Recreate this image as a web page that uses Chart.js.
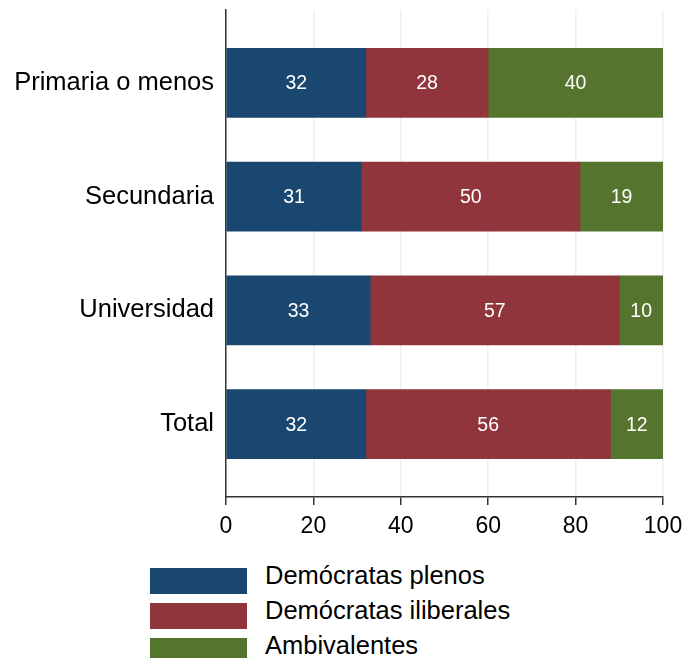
<!DOCTYPE html>
<html>
<head>
<meta charset="utf-8">
<script src="https://cdn.jsdelivr.net/npm/chart.js@4"></script>
<style>
  body { margin: 0; background: #fff; font-family: "Liberation Sans", Arial, sans-serif; }
  #wrap { position: relative; width: 686px; height: 658px; overflow: hidden; }
  #chart { position: absolute; left: 0; top: 0; }
  #legend { position: absolute; left: 150px; top: 563px; }
  .item { display: flex; align-items: center; height: 35px; }
  .box { width: 97px; height: 26px; margin-right: 18px; box-sizing: border-box; }
  .item span { font-size: 25.5px; color: #000; position: relative; top: -5px; white-space: nowrap; }
</style>
</head>
<body>
<div id="wrap">
  <canvas id="chart" width="686" height="545"></canvas>
  <div id="legend"></div>
</div>
<script>
const categories = ["Primaria o menos", "Secundaria", "Universidad", "Total"];
const plenos = [32, 31, 33, 32];
const iliberales = [28, 50, 57, 56];
const ambivalentes = [40, 19, 10, 12];
const xTicks = [0, 20, 40, 60, 80, 100];

const seriesNames = ["Demócratas plenos", "Demócratas iliberales", "Ambivalentes"];
const seriesColors = ["#1a476f", "#90353b", "#55752f"];
const seriesValues = [plenos, iliberales, ambivalentes];

const font = "'Liberation Sans', Arial, sans-serif";

// labels inside each segment
const barLabels = {
  id: "barLabels",
  afterDatasetsDraw(c) {
    const ctx = c.ctx;
    ctx.save();
    ctx.fillStyle = "#fff";
    ctx.font = "19.5px " + font;
    ctx.textAlign = "center";
    ctx.textBaseline = "middle";
    c.data.datasets.forEach((ds, i) => {
      c.getDatasetMeta(i).data.forEach((el, j) => {
        const p = el.getProps(["x", "y", "base"], true);
        ctx.fillText(String(ds.data[j].x), (p.x + p.base) / 2, p.y + 1);
      });
    });
    ctx.restore();
  }
};

new Chart(document.getElementById("chart"), {
  type: "bar",
  data: {
    datasets: seriesNames.map((name, k) => ({
      label: name,
      data: seriesValues[k].map((v, i) => ({ x: v, y: i })),
      backgroundColor: seriesColors[k],
      borderWidth: 0,
      barThickness: 69
    }))
  },
  options: {
    indexAxis: "y",
    responsive: false,
    animation: false,
    layout: { padding: { top: 10, right: 23, left: 0, bottom: 0 } },
    plugins: { legend: { display: false }, tooltip: { enabled: false } },
    scales: {
      x: {
        type: "linear",
        stacked: true,
        min: 0,
        max: 100,
        afterBuildTicks: s => { s.ticks = xTicks.map(v => ({ value: v })); },
        afterFit: s => { s.height = 48; s.paddingLeft = 0; s.paddingRight = 0; },
        ticks: { color: "#000", font: { size: 23, family: font }, padding: 8 },
        grid: { color: "#eaf2f3", lineWidth: 1.5, tickColor: "#333", tickLength: 8, tickWidth: 1.5 },
        border: { color: "#333", width: 1.5 }
      },
      y: {
        type: "linear",
        stacked: true,
        reverse: true,
        offset: false,
        min: -0.64,
        max: 3.64,
        afterBuildTicks: s => { s.ticks = categories.map((_, i) => ({ value: i })); },
        afterFit: s => { s.width = 226; s.paddingTop = 0; s.paddingBottom = 0; },
        ticks: { color: "#000", font: { size: 25.5, family: font }, padding: 12, callback: v => categories[v] },
        grid: { display: false, drawTicks: false },
        border: { display: true, color: "#333", width: 1.5 }
      }
    }
  },
  plugins: [barLabels]
});

document.getElementById("legend").innerHTML = seriesNames.map((n, k) =>
  `<div class="item"><div class="box" style="background:${seriesColors[k]}"></div><span>${n}</span></div>`
).join("");
</script>
</body>
</html>
